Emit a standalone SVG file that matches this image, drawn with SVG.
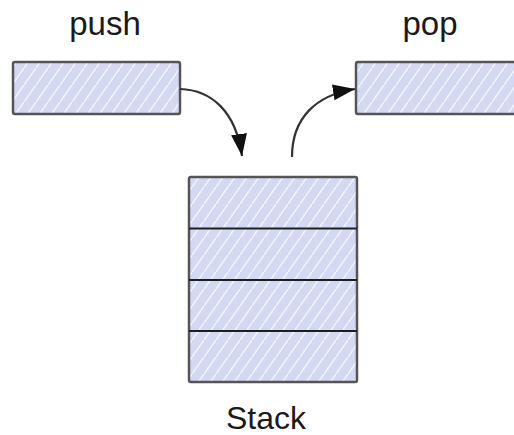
<svg xmlns="http://www.w3.org/2000/svg" width="514" height="435" viewBox="0 0 514 435">
  <style>
    .label { font-family: "Liberation Sans", Arial, sans-serif; font-size: 33px; fill: #1a1a1a; text-anchor: middle; }
    .cell { fill: url(#hatch); stroke: #555; stroke-width: 2.5; }
    .divider { stroke: #1e1e1e; stroke-width: 2; }
    .link { fill: none; stroke: #333; stroke-width: 2.2; }
  </style>
  <defs>
    <pattern id="hatch" patternUnits="userSpaceOnUse" width="12" height="17">
      <rect width="12" height="17" fill="#d3d9f3"/>
      <path d="M-3,21.25 L15,-4.25" stroke="#ffffff" stroke-opacity="0.75" stroke-width="1.5"/>
    </pattern>
    <marker id="head" markerUnits="userSpaceOnUse" markerWidth="24" markerHeight="18" refX="22" refY="8" orient="auto">
      <path d="M0,0 L22,8 L0,16 z" fill="#111"/>
    </marker>
  </defs>

  <g id="push">
    <rect class="cell" x="13" y="62" width="167" height="52" rx="2"/>
    <text class="label" x="105" y="35">push</text>
  </g>

  <g id="pop">
    <rect class="cell" x="356" y="62" width="170" height="52" rx="2"/>
    <text class="label" x="430" y="35">pop</text>
  </g>

  <g id="stack">
    <rect class="cell" x="189" y="177" width="168" height="205" rx="2"/>
    <line class="divider" x1="189" y1="228.5" x2="357" y2="228.5"/>
    <line class="divider" x1="189" y1="280" x2="357" y2="280"/>
    <line class="divider" x1="189" y1="331" x2="357" y2="331"/>
    <text class="label" x="266" y="429" style="font-size:32px">Stack</text>
  </g>

  <g id="connectors">
    <path class="link" d="M180,89 C212,90 236,112 242,156" marker-end="url(#head)"/>
    <path class="link" d="M292,157 C292,118 316,95 355,89" marker-end="url(#head)"/>
  </g>
</svg>
